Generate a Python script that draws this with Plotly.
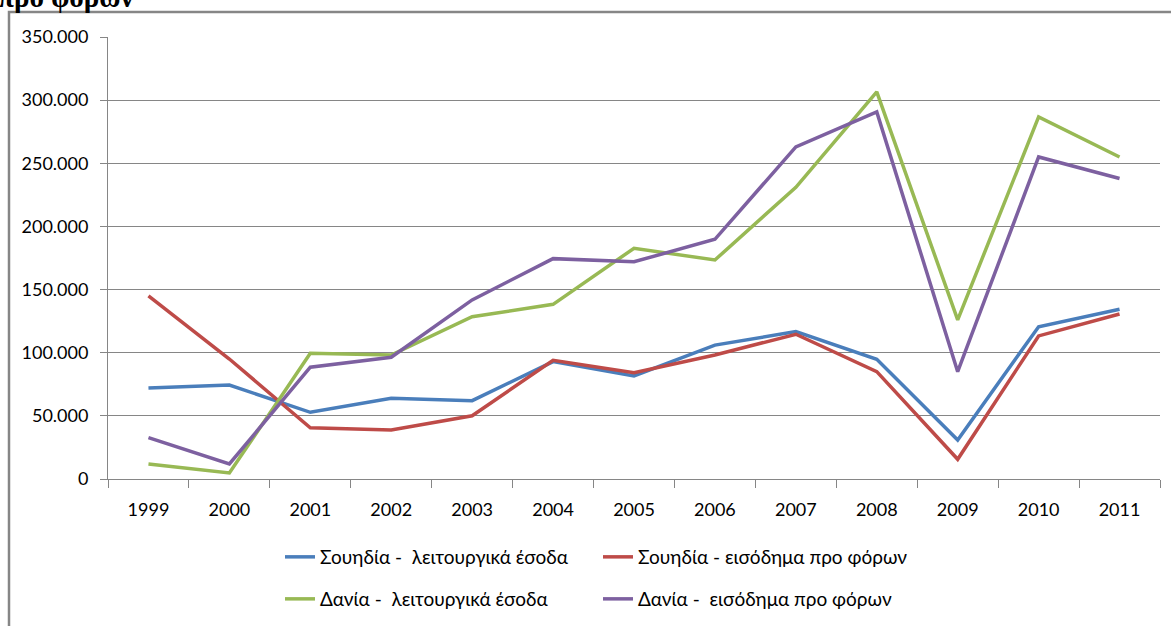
import plotly.graph_objects as go

years = ["1999", "2000", "2001", "2002", "2003", "2004", "2005", "2006", "2007", "2008", "2009", "2010", "2011"]

se_operating = [72000, 74400, 52800, 63900, 62000, 93000, 81600, 106000, 116700, 94800, 30900, 120600, 134400]
se_pretax = [145000, 95000, 40600, 38800, 50100, 94000, 84200, 98200, 114600, 85000, 15600, 113300, 130700]
dk_operating = [11900, 4750, 99500, 98200, 128500, 138300, 182700, 173400, 231000, 306500, 126000, 286700, 255000]
dk_pretax = [32700, 11900, 88500, 96400, 141800, 174500, 172000, 189800, 263000, 290700, 85000, 255000, 238000]

names = [
    "Σουηδία - \u00a0λειτουργικά έσοδα",
    "Σουηδία - εισόδημα προ φόρων",
    "Δανία - \u00a0λειτουργικά έσοδα",
    "Δανία - \u00a0εισόδημα προ φόρων",
]
colors = ["#4A7EBB", "#BE4B48", "#98B954", "#7D60A0"]
series = [se_operating, se_pretax, dk_operating, dk_pretax]
legends = ["legend", "legend", "legend2", "legend2"]

W, H = 1171, 626
L, R, T, B = 108, W - 1160, 37, H - 479
pw, ph = W - L - R, H - T - B

def px_x(p):
    return (p - L) / pw

def px_y(p):
    return (H - B - p) / ph

fig = go.Figure()
for name, col, ys, lg in zip(names, colors, series, legends):
    fig.add_trace(go.Scatter(
        x=years, y=ys, name=name, mode="lines",
        line=dict(color=col, width=3.5),
        legend=lg,
    ))

grid = "#868686"
font_main = "Lato, 'Noto Sans', sans-serif"

fig.update_layout(
    width=W, height=H,
    margin=dict(l=L, r=R, t=T, b=B, autoexpand=False),
    paper_bgcolor="white", plot_bgcolor="white",
    separators=",.",
    font=dict(family=font_main, size=18, color="#000000"),
    xaxis=dict(
        type="category", tickson="boundaries", ticks="outside", ticklen=8,
        tickcolor=grid, showline=True, linecolor=grid, linewidth=1,
        showgrid=False, tickfont=dict(size=18), ticklabelstandoff=14,
        range=[-0.5, 12.5],
    ),
    yaxis=dict(
        range=[0, 350000], tickvals=[0, 50000, 100000, 150000, 200000, 250000, 300000, 350000],
        tickformat=",d", ticks="outside", ticklen=7, tickcolor=grid,
        showline=True, linecolor=grid, linewidth=1,
        showgrid=True, gridcolor=grid, gridwidth=1, zeroline=False,
        tickfont=dict(size=18), ticklabelstandoff=8,
    ),
    legend=dict(
        orientation="h", x=px_x(280), xanchor="left", y=px_y(557), yanchor="middle",
        entrywidth=273, font=dict(size=19, family=font_main),
        bgcolor="rgba(0,0,0,0)",
    ),
    legend2=dict(
        orientation="h", x=px_x(280), xanchor="left", y=px_y(599), yanchor="middle",
        entrywidth=273, font=dict(size=19, family=font_main),
        bgcolor="rgba(0,0,0,0)",
    ),
    showlegend=True,
)

# outer chart border
fig.add_shape(type="rect", xref="paper", yref="paper",
              x0=px_x(9), x1=px_x(1185), y0=px_y(650), y1=px_y(12),
              line=dict(color=grid, width=2.5), fillcolor="rgba(0,0,0,0)", layer="below")

# cut-off heading above chart
fig.add_annotation(text="<b>προ φόρων</b>", xref="paper", yref="paper",
                   x=px_x(-4), y=px_y(15), xanchor="left", yanchor="bottom",
                   showarrow=False, font=dict(family="'Liberation Serif', serif", size=29, color="black"))

fig.write_html("out.html", config={"displayModeBar": False},
               post_script="document.body.style.margin='0';document.body.style.overflow='hidden';")
